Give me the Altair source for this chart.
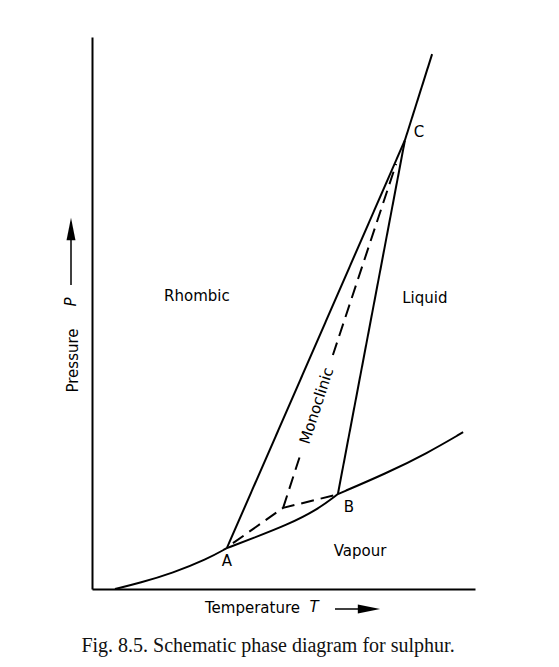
import altair as alt
import pandas as pd

# Schematic phase diagram for sulphur (arbitrary units, 0-100 on both axes)
# Solid curves
sub_T = [6.0, 12.5, 21.1, 30.0, 35.2]          # rhombic / vapour
sub_P = [0.0, 1.1, 2.9, 5.4, 7.4]
ab_T = [35.2, 42.0, 50.9, 58.7, 64.2]          # monoclinic / vapour (A-B)
ab_P = [7.4, 9.2, 11.6, 14.3, 17.2]
vap_T = [64.2, 77.0, 87.5, 96.9]               # liquid / vapour
vap_P = [17.2, 21.0, 24.6, 28.4]
# Straight solid lines
ac_T = [35.2, 81.7]                            # rhombic / monoclinic (A-C)
ac_P = [7.4, 81.3]
ctop_T = [81.7, 88.8]                          # rhombic / liquid above C
ctop_P = [81.3, 96.9]
bc_T = [64.2, 81.7]                            # monoclinic / liquid (B-C)
bc_P = [17.2, 81.3]
# Dashed metastable lines (gap left for the "Monoclinic" label)
d1_T = [36.8, 49.9, 63.4]
d1_P = [8.3, 14.7, 17.0]
d2_T = [49.9, 54.3]
d2_P = [14.7, 24.1]
d3_T = [62.9, 79.4]
d3_P = [42.4, 77.0]

labels = ["Rhombic", "Liquid", "Vapour", "A", "B", "C"]
label_T = [27.4, 86.9, 70.0, 35.2, 67.1, 85.4]
label_P = [53.1, 52.7, 6.9, 5.1, 14.9, 82.8]

mono_label = ["Monoclinic"]
mono_T = [58.6]
mono_P = [33.2]

x_title = "Temperature"
y_title = "Pressure"
x_symbol = "T"
y_symbol = "P"
caption = "Fig. 8.5. Schematic phase diagram for sulphur."


def frame(series):
    rows = []
    for name, ts, ps in series:
        for i, (t, p) in enumerate(zip(ts, ps)):
            rows.append({"series": name, "i": i, "T": t, "P": p})
    return pd.DataFrame(rows)


curves = frame([("sub", sub_T, sub_P), ("ab", ab_T, ab_P), ("vap", vap_T, vap_P)])
straight = frame([("ac", ac_T, ac_P), ("ctop", ctop_T, ctop_P), ("bc", bc_T, bc_P)])
dashed = frame([("d1", d1_T, d1_P), ("d2", d2_T, d2_P), ("d3", d3_T, d3_P)])
lab = pd.DataFrame({"label": labels, "T": label_T, "P": label_P})
mono = pd.DataFrame({"label": mono_label, "T": mono_T, "P": mono_P})
one = pd.DataFrame({"k": [0]})

FONT = "DejaVu Sans"

xs = alt.Scale(domain=[0, 100], nice=False, zero=False)
ys = alt.Scale(domain=[0, 100], nice=False, zero=False)

x_axis = alt.Axis(
    title=x_title, domain=True, domainColor="#000", domainWidth=2,
    ticks=False, labels=False, grid=False, titleFont=FONT, titleFontSize=15,
    titleFontWeight="normal", titleColor="#000", titlePadding=11, titleX=160,
    titleAlign="center",
)
y_axis = alt.Axis(
    title=y_title, domain=True, domainColor="#000", domainWidth=2,
    ticks=False, labels=False, grid=False, titleFont=FONT, titleFontSize=15,
    titleFontWeight="normal", titleColor="#000", titlePadding=12, titleY=323,
    titleAlign="center",
)

X = alt.X("T:Q", scale=xs, axis=x_axis)
Y = alt.Y("P:Q", scale=ys, axis=y_axis)

curve_layer = alt.Chart(curves).mark_line(
    color="#000", strokeWidth=2, interpolate="basis"
).encode(x=X, y=Y, detail="series:N", order="i:Q")

straight_layer = alt.Chart(straight).mark_line(
    color="#000", strokeWidth=2
).encode(x=X, y=Y, detail="series:N", order="i:Q")

dashed_layer = alt.Chart(dashed).mark_line(
    color="#000", strokeWidth=2, strokeDash=[13, 7]
).encode(x=X, y=Y, detail="series:N", order="i:Q")

label_layer = alt.Chart(lab).mark_text(
    font=FONT, fontSize=15, color="#000", align="center", baseline="middle"
).encode(x=X, y=Y, text="label:N")

mono_layer = alt.Chart(mono).mark_text(
    font=FONT, fontSize=15, color="#000", align="center", baseline="middle",
    angle=288
).encode(x=X, y=Y, text="label:N")

# italic axis symbols and arrows next to the axis titles
t_sym = alt.Chart(one).mark_text(
    font=FONT, fontSize=15, fontStyle="italic", color="#000",
    align="center", baseline="middle"
).encode(x=alt.value(222), y=alt.value(570), text=alt.value(x_symbol))

p_sym = alt.Chart(one).mark_text(
    font=FONT, fontSize=15, fontStyle="italic", color="#000",
    align="center", baseline="middle", angle=270
).encode(x=alt.value(-21), y=alt.value(265), text=alt.value(y_symbol))

x_shaft = alt.Chart(one).mark_rule(color="#000", strokeWidth=1.5).encode(
    x=alt.value(243), x2=alt.value(272), y=alt.value(572)
)
x_head = alt.Chart(one).mark_point(
    shape="M-1,-0.4L1,0L-1,0.4Z", filled=True, color="#000", opacity=1,
    size=500, strokeWidth=0
).encode(x=alt.value(277), y=alt.value(572))

y_shaft = alt.Chart(one).mark_rule(color="#000", strokeWidth=1.5).encode(
    x=alt.value(-21), y=alt.value(248), y2=alt.value(198)
)
y_head = alt.Chart(one).mark_point(
    shape="M-0.4,1L0,-1L0.4,1Z", filled=True, color="#000", opacity=1,
    size=500, strokeWidth=0
).encode(x=alt.value(-21), y=alt.value(192))

cap_layer = alt.Chart(one).mark_text(
    font="Liberation Serif", fontSize=20, color="#111", align="center",
    baseline="middle"
).encode(x=alt.value(176), y=alt.value(609), text=alt.value(caption))

chart = alt.layer(
    curve_layer, straight_layer, dashed_layer, label_layer, mono_layer,
    t_sym, p_sym, x_shaft, x_head, y_shaft, y_head, cap_layer
).properties(
    width=383, height=552,
    padding={"left": 84, "top": 29, "right": 76, "bottom": 70},
    autosize="none", background="#ffffff",
).configure_view(stroke=None)

chart.save("out.html", embed_options={"renderer": "svg", "actions": False})
